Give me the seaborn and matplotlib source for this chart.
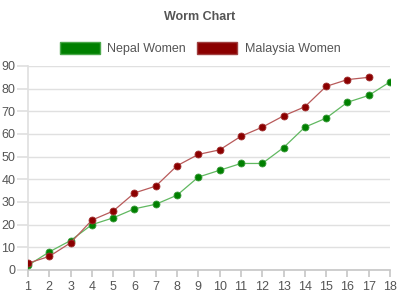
import matplotlib
matplotlib.use("Agg")
import matplotlib.pyplot as plt
import seaborn as sns
import pandas as pd
from matplotlib.patches import Patch

days_nepal = list(range(1, 19))
nepal = [2, 8, 13, 20, 23, 27, 29, 33, 41, 44, 47, 47, 54, 63, 67, 74, 77, 83]
days_malaysia = list(range(1, 18))
malaysia = [3, 6, 12, 22, 26, 34, 37, 46, 51, 53, 59, 63, 68, 72, 81, 84, 85]
y_ticks = list(range(0, 100, 10))
x_ticks = list(range(1, 19))

sns.set_theme(style="white")
plt.rcParams['font.family'] = ['Liberation Sans', 'DejaVu Sans']

fig = plt.figure(figsize=(4, 3), dpi=100)
ax = fig.add_axes([0.07, 0.10, 0.905, 0.68])

df_n = pd.DataFrame({"x": days_nepal, "y": nepal})
df_m = pd.DataFrame({"x": days_malaysia, "y": malaysia})

sns.lineplot(data=df_n, x="x", y="y", ax=ax, color="#60b860", lw=0.9,
             marker="o", markersize=5, markerfacecolor="#008000",
             markeredgecolor="#3a9a3a", markeredgewidth=0.6, zorder=3)
sns.lineplot(data=df_m, x="x", y="y", ax=ax, color="#b85a5a", lw=0.9,
             marker="o", markersize=5, markerfacecolor="#8b0000",
             markeredgecolor="#a03030", markeredgewidth=0.6, zorder=3)

ax.set_xlim(1, 18)
ax.set_ylim(0, 90)
ax.set_xticks(x_ticks)
ax.set_yticks(y_ticks)
ax.set_xlabel("")
ax.set_ylabel("")
ax.grid(axis="y", color="#e0e0e0", lw=1)
ax.set_axisbelow(True)
for s in ["top", "right"]:
    ax.spines[s].set_visible(False)
ax.spines["left"].set_color("#e0e0e0")
ax.spines["bottom"].set_color("#c8c8c8")
ax.tick_params(axis="x", length=5, color="#c8c8c8", labelsize=9, labelcolor="#555555", pad=3, bottom=True)
ax.tick_params(axis="y", length=8, color="#e0e0e0", labelsize=9, labelcolor="#555555", pad=1, left=True)

fig.text(0.5, 0.945, "Worm Chart", ha="center", va="center", fontsize=9,
         fontweight="bold", color="#555555")

handles = [Patch(facecolor="#008000", edgecolor="#4aa84a", label="Nepal Women"),
           Patch(facecolor="#8b0000", edgecolor="#a04040", label="Malaysia Women")]
fig.legend(handles=handles, loc="center", bbox_to_anchor=(0.5, 0.837), ncol=2,
           frameon=False, fontsize=9, labelcolor="#555555", handlelength=3.2,
           handleheight=1.05, handletextpad=0.6, columnspacing=0.9)

fig.savefig("out.png", dpi=100)
